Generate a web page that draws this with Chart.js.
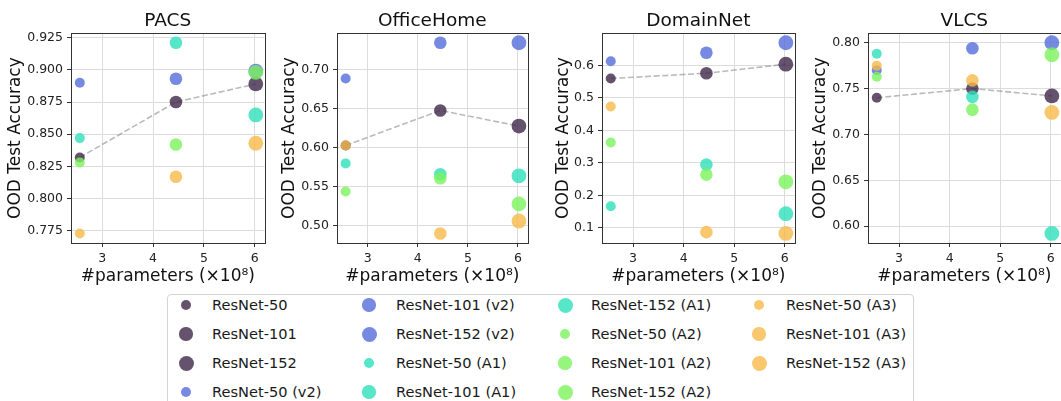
<!DOCTYPE html>
<html>
<head>
<meta charset="utf-8">
<script src="https://cdn.jsdelivr.net/npm/chart.js@4.4.0/dist/chart.umd.min.js"></script>
<style>
  html, body { margin: 0; padding: 0; background: #fff; overflow: hidden; }
  body { width: 1061px; height: 401px; position: relative; font-family: "DejaVu Sans", sans-serif; }
  canvas { position: absolute; top: 0; }
  #legend { position: absolute; left: 167px; top: 294px; width: 745px; height: 130px;
            border: 1px solid #d4d4d4; border-radius: 4px; background: #fff; }
  .item { position: absolute; font-size: 14.6px; color: #1a1a1a; line-height: 18px; white-space: nowrap; }
  .dot { position: absolute; border-radius: 50%; }
</style>
</head>
<body>
<canvas id="c0" width="272" height="290" style="left:0px"></canvas>
<canvas id="c1" width="261" height="290" style="left:274px"></canvas>
<canvas id="c2" width="254" height="290" style="left:548px"></canvas>
<canvas id="c3" width="263" height="290" style="left:805px"></canvas>
<div id="legend"></div>
<script>
// parameter counts (x 10^8) for ResNet-50 / 101 / 152
const params = [2.56, 4.45, 6.02];
const depths = ['ResNet-50', 'ResNet-101', 'ResNet-152'];
const variants = ['', ' (v2)', ' (A1)', ' (A2)', ' (A3)'];
const benchmarks = ['PACS', 'OfficeHome', 'DomainNet', 'VLCS'];

// OOD accuracy, one row per variant, columns = ResNet-50, 101, 152
const pacsAcc = [
  [0.832, 0.875, 0.889],
  [0.890, 0.893, 0.899],
  [0.847, 0.921, 0.865],
  [0.828, 0.842, 0.898],
  [0.773, 0.817, 0.843]
];
const officeHomeAcc = [
  [0.603, 0.648, 0.628],
  [0.689, 0.735, 0.735],
  [0.580, 0.566, 0.564],
  [0.544, 0.561, 0.528],
  [0.603, 0.490, 0.506]
];
const domainNetAcc = [
  [0.560, 0.576, 0.604],
  [0.613, 0.639, 0.670],
  [0.167, 0.295, 0.144],
  [0.363, 0.264, 0.242],
  [0.474, 0.087, 0.083]
];
const vlcsAcc = [
  [0.740, 0.750, 0.742],
  [0.770, 0.794, 0.800],
  [0.788, 0.741, 0.592],
  [0.763, 0.727, 0.787],
  [0.775, 0.759, 0.724]
];
const allAcc = [pacsAcc, officeHomeAcc, domainNetAcc, vlcsAcc];
const yStep = [0.025, 0.05, 0.1, 0.05];
const yDecimals = [3, 2, 1, 2];

const colors = ['rgba(62,40,72,0.8)', 'rgba(84,109,219,0.8)', 'rgba(46,224,186,0.8)',
                'rgba(124,242,92,0.8)', 'rgba(247,186,74,0.8)'];
const radii = [5, 6.3, 7.4];
const FONT = 'DejaVu Sans';

// canvas layout: y axis widths so the plot boxes land where the figure has them
const yWidths = [71, 63, 54, 63];

const frame = {
  id: 'frame',
  afterDatasetsDraw(chart) {
    const a = chart.chartArea;
    const ctx = chart.ctx;
    ctx.save();
    ctx.strokeStyle = '#333';
    ctx.lineWidth = 1;
    ctx.strokeRect(Math.round(a.left) + 0.5, Math.round(a.top) + 0.5,
                   Math.round(a.right - a.left), Math.round(a.bottom - a.top));
    ctx.restore();
  }
};

function margins(lo, hi) {
  const m = (hi - lo) * 0.05;
  return [lo - m, hi + m];
}

benchmarks.forEach((name, b) => {
  const acc = allAcc[b];
  const datasets = [];
  // dashed trend for the plain ResNets
  datasets.push({
    type: 'line',
    data: params.map((p, d) => ({x: p, y: acc[0][d]})),
    borderColor: 'rgba(140,140,140,0.6)',
    borderWidth: 1.6,
    borderDash: [6, 2.6],
    pointRadius: 0,
    fill: false,
    order: 100
  });
  variants.forEach((v, vi) => {
    depths.forEach((dname, d) => {
      const idx = vi * 3 + d;
      datasets.push({
        label: dname + v,
        data: [{x: params[d], y: acc[vi][d]}],
        backgroundColor: colors[vi],
        borderWidth: 0,
        pointRadius: radii[d],
        pointHoverRadius: radii[d],
        order: 50 - idx
      });
    });
  });
  const flat = acc.flat();
  const [ymin, ymax] = margins(Math.min(...flat), Math.max(...flat));
  const [xmin, xmax] = margins(params[0], params[2]);
  const yw = yWidths[b];

  new Chart(document.getElementById('c' + b), {
    type: 'scatter',
    data: {datasets: datasets},
    options: {
      responsive: false,
      animation: false,
      devicePixelRatio: 1,
      layout: {padding: {left: 0, right: 4, top: 0, bottom: 0}},
      plugins: {
        legend: {display: false},
        tooltip: {enabled: false},
        title: {
          display: true,
          text: name,
          fullSize: false,
          color: '#111',
          font: {family: FONT, size: 18.5, weight: 'normal'},
          padding: {top: 10, bottom: 1}
        }
      },
      scales: {
        x: {
          type: 'linear',
          min: xmin,
          max: xmax,
          afterFit: s => { s.height = 47; },
          border: {display: false},
          grid: {color: '#dcdcdc', tickColor: '#333', tickLength: 4, lineWidth: 1},
          ticks: {
            stepSize: 1,
            includeBounds: false,
            padding: 4,
            color: '#222',
            font: {family: FONT, size: 12.5},
            callback: v => v.toFixed(0)
          },
          title: {
            display: true,
            text: '#parameters (×10⁸)',
            color: '#111',
            font: {family: FONT, size: 17},
            padding: {top: 0, bottom: 3}
          }
        },
        y: {
          type: 'linear',
          min: ymin,
          max: ymax,
          afterFit: s => { s.width = yw; },
          border: {display: false},
          grid: {color: '#dcdcdc', tickColor: '#333', tickLength: 4, lineWidth: 1},
          ticks: {
            stepSize: yStep[b],
            includeBounds: false,
            padding: 4,
            color: '#222',
            font: {family: FONT, size: 12.5},
            callback: v => v.toFixed(yDecimals[b])
          },
          title: {
            display: true,
            text: 'OOD Test Accuracy',
            color: '#111',
            font: {family: FONT, size: 17},
            padding: {top: 5, bottom: 0}
          }
        }
      }
    },
    plugins: [frame]
  });
});

// legend, filled column by column like the figure
const legendEl = document.getElementById('legend');
const L0 = 168, T0 = 295;
const textX = [212, 396, 591, 786];
const dotX = [186, 369, 565, 759];
const rowY = [305, 334, 363, 392];
const legendRadii = [5.3, 6.6, 7.5];
variants.forEach((v, vi) => {
  depths.forEach((dname, d) => {
    const k = vi * 3 + d;
    const col = Math.floor(k / 4), row = k % 4;
    const r = legendRadii[d];
    const dot = document.createElement('div');
    dot.className = 'dot';
    dot.style.width = dot.style.height = (2 * r) + 'px';
    dot.style.left = (dotX[col] - r - L0) + 'px';
    dot.style.top = (rowY[row] - r - T0) + 'px';
    dot.style.background = colors[vi];
    legendEl.appendChild(dot);
    const t = document.createElement('div');
    t.className = 'item';
    t.textContent = dname + v;
    t.style.left = (textX[col] - L0) + 'px';
    t.style.top = (rowY[row] - 9 - T0) + 'px';
    legendEl.appendChild(t);
  });
});
</script>
</body>
</html>
